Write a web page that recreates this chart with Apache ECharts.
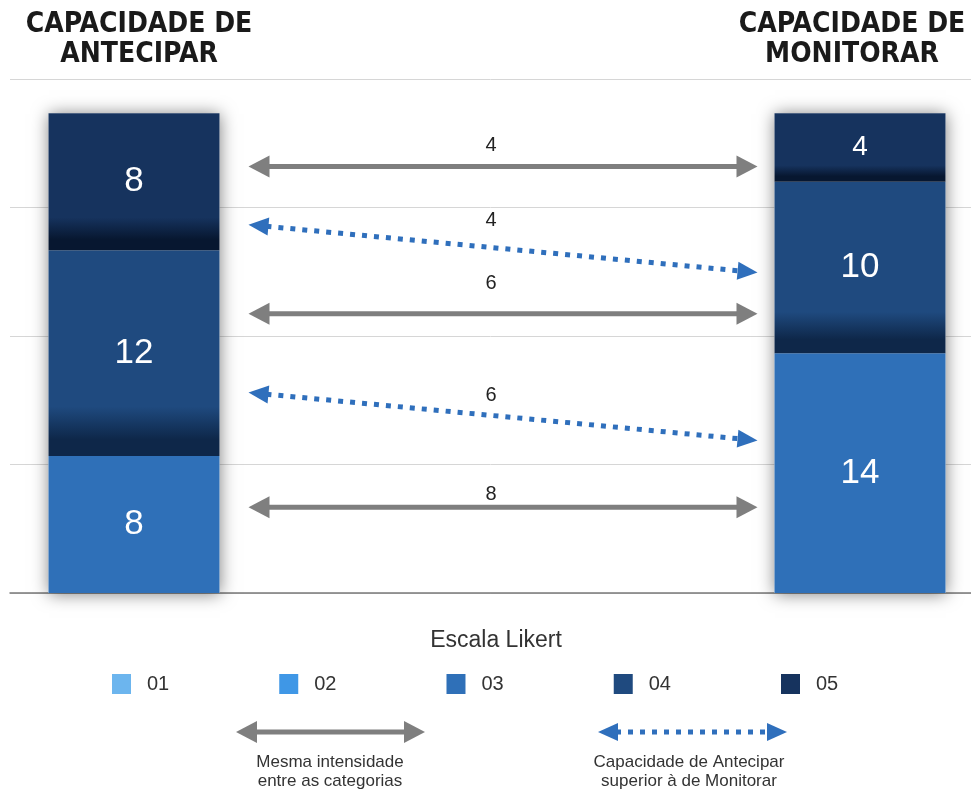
<!DOCTYPE html>
<html><head><meta charset="utf-8">
<script src="https://cdn.jsdelivr.net/npm/echarts@6/dist/echarts.min.js"></script>
<style>html,body{margin:0;padding:0;background:#fff}#c{width:971px;height:798px}</style>
</head><body><div id="c"></div>
<script>
// ---------- data ----------
const categories = ['CAPACIDADE DE\nANTECIPAR', 'CAPACIDADE DE\nMONITORAR'];
const likertLevels = ['01', '02', '03', '04', '05'];
const likert01 = [0, 0];
const likert02 = [0, 0];
const likert03 = [8, 14];
const likert04 = [12, 10];
const likert05 = [8, 4];
const yMax = 30;
const yInterval = 7.5;
// arrows between the two bars: level on left bar, level on right bar, value, kind
const arrowLeftLevel = [24.9, 21.5, 16.3, 11.7, 5.0];
const arrowRightLevel = [24.9, 18.7, 16.3, 8.9, 5.0];
const arrowValue = [4, 4, 6, 6, 8];
const arrowKind = [0, 1, 0, 1, 0]; // 0 = mesma intensidade, 1 = antecipar superior
const legendTitle = 'Escala Likert';
const legendNotes = ['Mesma intensidade\nentre as categorias', 'Capacidade de Antecipar\nsuperior à de Monitorar'];

// ---------- styles ----------
const FONT = '"Liberation Sans", Arial, Helvetica, sans-serif';
const TITLE_FONT = '"DejaVu Sans Condensed", "Liberation Sans", sans-serif';
const levelColors = ['#6cb5ee', '#3f97e6', '#2f70b8', '#1f4a7f', '#16335e'];
const levelDark = ['#6cb5ee', '#3f97e6', '#2f70b8', '#0e2749', '#071730'];
const BAR_W = 171, GAP_L = 29, GAP_R = 17;
const titlePadding = [[0, 0, 0, 10], [0, 16, 0, 0]];
const arrowLabelDy = [-21, -28, -30, -21, -13];
const arrowStyles = [
  { color: '#7f7f7f', width: 5, dash: null, headL: 21, headW: 22 },
  { color: '#2f6fbc', width: 5, dash: [5, 7], headL: 20, headW: 18 }
];

function arrowElems(x1, y1, x2, y2, st) {
  const dx = x2 - x1, dy = y2 - y1, len = Math.hypot(dx, dy);
  const ux = dx / len, uy = dy / len, nx = -uy, ny = ux;
  const hL = st.headL, hW = st.headW / 2;
  const head = (tx, ty, s) => ({
    type: 'polygon',
    shape: { points: [[tx, ty],
      [tx - s * ux * hL + nx * hW, ty - s * uy * hL + ny * hW],
      [tx - s * ux * hL - nx * hW, ty - s * uy * hL - ny * hW]] },
    style: { fill: st.color }
  });
  return [
    { type: 'line', shape: { x1: x1 + ux * (hL - 2), y1: y1 + uy * (hL - 2), x2: x2 - ux * (hL - 2), y2: y2 - uy * (hL - 2) },
      style: { stroke: st.color, lineWidth: st.width, lineDash: st.dash || null, fill: null } },
    head(x2, y2, 1),
    head(x1, y1, -1)
  ];
}

function segColor(lvl) {
  if (levelColors[lvl] === levelDark[lvl]) return levelColors[lvl];
  return new echarts.graphic.LinearGradient(0, 0, 0, 1, [
    { offset: 0, color: levelColors[lvl] },
    { offset: 0.76, color: levelColors[lvl] },
    { offset: 0.92, color: levelDark[lvl] },
    { offset: 1, color: levelDark[lvl] }
  ]);
}

const seriesValues = [likert01, likert02, likert03, likert04, likert05];
const totals = categories.map((c, i) => seriesValues.reduce((s, arr) => s + arr[i], 0));

const barSeries = seriesValues.map((vals, lvl) => ({
  name: likertLevels[lvl], type: 'bar', stack: 'likert', xAxisIndex: 1, yAxisIndex: 1,
  barWidth: BAR_W, barGap: '-100%', clip: false, z: 3,
  data: vals.map(v => ({ value: v, label: { fontSize: v < 6 ? 28 : 35 } })),
  itemStyle: { color: segColor(lvl) },
  label: { show: vals.some(v => v > 0), position: 'inside', color: '#fff', fontFamily: FONT,
    formatter: p => (p.value > 0 ? String(p.value) : '') },
  emphasis: { disabled: true }
}));

const option = {
  animation: false,
  backgroundColor: '#fff',
  grid: [
    { left: 10, right: 0, top: 79, bottom: 205, containLabel: false, outerBoundsMode: 'none' },
    { left: 134, right: 111, top: 79, bottom: 205, containLabel: false, outerBoundsMode: 'none' }
  ],
  xAxis: [
    { gridIndex: 0, type: 'value', min: 0, max: 1, axisLabel: { show: false }, axisTick: { show: false },
      splitLine: { show: false }, axisLine: { show: true, lineStyle: { color: '#7a7a7a', width: 1.5 } } },
    { gridIndex: 1, type: 'category', boundaryGap: false, position: 'top',
      data: categories.map((c, i) => ({ value: c, textStyle: { padding: titlePadding[i] } })),
      axisLine: { show: false }, axisTick: { show: false },
      axisLabel: { interval: 0, margin: 9, fontFamily: TITLE_FONT, fontWeight: 'bold', fontSize: 28,
        lineHeight: 30, color: '#1a1a1a', align: 'center', hideOverlap: false } }
  ],
  yAxis: [
    { gridIndex: 0, type: 'value', min: 0, max: yMax, interval: yInterval,
      axisLabel: { show: false }, axisLine: { show: false }, axisTick: { show: false },
      splitLine: { show: true, lineStyle: { color: '#d6d6d6', width: 1 } } },
    { gridIndex: 1, type: 'value', min: 0, max: yMax, interval: yInterval, show: false }
  ],
  legend: {
    data: likertLevels.map((n, i) => ({ name: n, itemStyle: { color: levelColors[i], shadowBlur: 0 } })),
    left: 107, top: 669, itemWidth: 19, itemHeight: 20, itemGap: 110, icon: 'rect',
    selectedMode: false,
    textStyle: { fontSize: 20, color: '#333', fontFamily: FONT, padding: [0, 0, 0, 11] }
  },
  series: [
    { name: 'sombra', type: 'bar', xAxisIndex: 1, yAxisIndex: 1, barWidth: BAR_W, barGap: '-100%',
      clip: false, z: 1, data: totals, silent: true,
      itemStyle: { color: '#fff', shadowBlur: 16, shadowColor: 'rgba(0,0,0,0.5)', shadowOffsetY: 1 } },
    ...barSeries,
    { type: 'custom', xAxisIndex: 1, yAxisIndex: 1, z: 5, silent: true,
      data: arrowLeftLevel.map((l, i) => [0, l, arrowRightLevel[i], arrowValue[i], arrowKind[i]]),
      encode: { x: 0, y: 1 },
      renderItem(params, api) {
        const i = params.dataIndex;
        const pl = api.coord([0, api.value(1)]);
        const pr = api.coord([1, api.value(2)]);
        const st = arrowStyles[api.value(4)];
        const x1 = pl[0] + BAR_W / 2 + GAP_L, y1 = pl[1];
        const x2 = pr[0] - BAR_W / 2 - GAP_R, y2 = pr[1];
        const children = arrowElems(x1, y1, x2, y2, st);
        children.push({ type: 'text', x: (x1 + x2) / 2 - 12, y: (y1 + y2) / 2 + arrowLabelDy[i],
          style: { text: String(api.value(3)), fill: '#222', fontSize: 20, fontFamily: FONT,
            align: 'center', verticalAlign: 'middle' } });
        return { type: 'group', children };
      } }
  ],
  graphic: [
    { type: 'text', x: 496, y: 641, style: { text: legendTitle, fill: '#333', fontSize: 23, fontFamily: FONT,
      align: 'center', verticalAlign: 'middle' } },
    { type: 'group', children: arrowElems(236, 732, 425, 732, arrowStyles[0]) },
    { type: 'group', children: arrowElems(598, 732, 787, 732, arrowStyles[1]) },
    { type: 'text', x: 330, y: 772, style: { text: legendNotes[0], fill: '#333', fontSize: 17, lineHeight: 19,
      fontFamily: FONT, align: 'center', verticalAlign: 'middle' } },
    { type: 'text', x: 689, y: 772, style: { text: legendNotes[1], fill: '#333', fontSize: 17, lineHeight: 19,
      fontFamily: FONT, align: 'center', verticalAlign: 'middle' } }
  ]
};

const chart = echarts.init(document.getElementById('c'), null, { renderer: 'canvas' });
chart.setOption(option);
</script>
</body></html>
